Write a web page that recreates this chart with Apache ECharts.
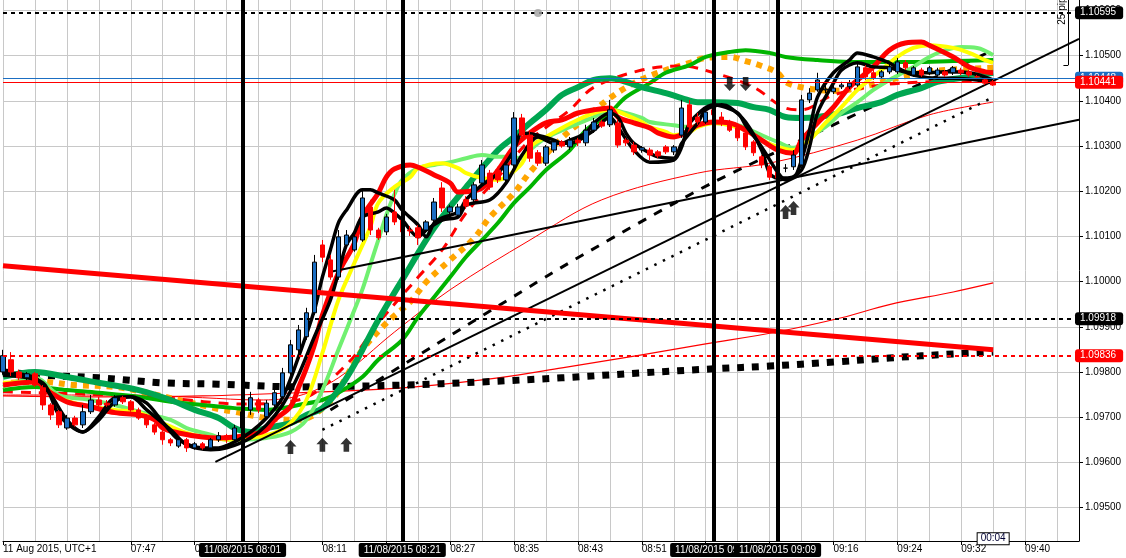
<!DOCTYPE html>
<html><head><meta charset="utf-8">
<script src="https://cdn.jsdelivr.net/npm/echarts@6.0.0/dist/echarts.min.js"></script>
<style>html,body{margin:0;padding:0;background:#fff}#c{width:1126px;height:558px}</style>
</head><body><div id="c"></div>
<script>
// ---------- axis ticks ----------
const xTickValues = [0,16,24,32,40,48,56,64,72,80,88,96,104,112,120,128];
const xTickLabels = ['11 Aug 2015, UTC+1','07:47','07:55','08:03','08:11','08:19','08:27','08:35','08:43','08:51','08:59','09:08','09:16','09:24','09:32','09:40'];
const yTickValues = [1.095,1.096,1.097,1.098,1.099,1.100,1.101,1.102,1.103,1.104,1.105,1.106];

// ---------- candles: [bar, open, close, low, high] ----------
const candles = [
[0,1.09800,1.09836,1.09794,1.09849],[1,1.09827,1.09800,1.09791,1.09844],[2,1.09800,1.09787,1.09782,1.09805],
[3,1.09787,1.09796,1.09782,1.09800],[4,1.09796,1.09771,1.09767,1.09800],[5,1.09765,1.09727,1.09716,1.09771],
[6,1.09727,1.09705,1.09694,1.09731],[7,1.09712,1.09683,1.09676,1.09716],[8,1.09676,1.09698,1.09672,1.09705],
[9,1.09698,1.09683,1.09679,1.09703],[10,1.09683,1.09712,1.09676,1.09727],[11,1.09712,1.09738,1.09707,1.09749],
[12,1.09738,1.09727,1.09721,1.09745],[13,1.09731,1.09727,1.09723,1.09738],[14,1.09727,1.09743,1.09723,1.09749],
[15,1.09743,1.09734,1.09729,1.09747],[16,1.09734,1.09716,1.09712,1.09738],[17,1.09716,1.09698,1.09694,1.09721],
[18,1.09703,1.09683,1.09676,1.09707],[19,1.09683,1.09667,1.09661,1.09687],[20,1.09667,1.09650,1.09639,1.09672],
[21,1.09650,1.09643,1.09636,1.09654],[22,1.09636,1.09650,1.09632,1.09656],[23,1.09650,1.09632,1.09623,1.09654],
[24,1.09632,1.09641,1.09628,1.09645],[25,1.09641,1.09632,1.09628,1.09645],[26,1.09632,1.09650,1.09628,1.09654],
[27,1.09650,1.09659,1.09645,1.09667],[28,1.09659,1.09650,1.09643,1.09663],[29,1.09650,1.09676,1.09645,1.09683],
[30,1.09676,1.09712,1.09672,1.09721],[31,1.09716,1.09743,1.09705,1.09756],[32,1.09738,1.09716,1.09709,1.09743],
[33,1.09701,1.09731,1.09694,1.09738],[34,1.09727,1.09754,1.09720,1.09765],[35,1.09745,1.09798,1.09738,1.09809],
[36,1.09798,1.09860,1.09791,1.09871],[37,1.09849,1.09893,1.09842,1.09904],[38,1.09878,1.09931,1.09871,1.09942],
[39,1.09931,1.10043,1.09926,1.10059],[40,1.10081,1.10054,1.10043,1.10092],[41,1.10048,1.10010,1.10004,1.10059],
[42,1.10010,1.10099,1.10004,1.10114],[43,1.10081,1.10103,1.10074,1.10114],[44,1.10070,1.10099,1.10066,1.10110],
[45,1.10092,1.10185,1.10088,1.10203],[46,1.10165,1.10114,1.10103,1.10181],[47,1.10114,1.10097,1.10092,1.10119],
[48,1.10110,1.10143,1.10103,1.10150],[49,1.10154,1.10132,1.10125,1.10203],[50,1.10136,1.10110,1.10101,1.10147],
[51,1.10114,1.10112,1.10101,1.10123],[52,1.10119,1.10097,1.10081,1.10125],[53,1.10114,1.10132,1.10108,1.10136],
[54,1.10136,1.10176,1.10132,1.10185],[55,1.10207,1.10163,1.10154,1.10220],[56,1.10154,1.10165,1.10147,1.10170],
[57,1.10147,1.10165,1.10141,1.10172],[58,1.10181,1.10167,1.10161,1.10189],[59,1.10181,1.10214,1.10174,1.10220],
[60,1.10218,1.10258,1.10212,1.10269],[61,1.10240,1.10209,1.10203,1.10247],[62,1.10247,1.10225,1.10218,1.10254],
[63,1.10225,1.10258,1.10220,1.10265],[64,1.10258,1.10362,1.10251,1.10375],[65,1.10362,1.10324,1.10313,1.10371],
[66,1.10324,1.10273,1.10265,1.10331],[67,1.10285,1.10262,1.10256,1.10291],[68,1.10262,1.10298,1.10256,1.10302],
[69,1.10291,1.10309,1.10285,1.10313],[70,1.10309,1.10300,1.10296,1.10313],[71,1.10298,1.10313,1.10291,1.10320],
[72,1.10313,1.10307,1.10300,1.10318],[73,1.10307,1.10335,1.10300,1.10347],[74,1.10335,1.10353,1.10329,1.10362],
[75,1.10353,1.10344,1.10340,1.10358],[76,1.10347,1.10380,1.10342,1.10402],[77,1.10351,1.10302,1.10296,1.10358],
[78,1.10313,1.10307,1.10300,1.10318],[79,1.10302,1.10287,1.10280,1.10309],[80,1.10291,1.10296,1.10285,1.10300],
[81,1.10291,1.10280,1.10269,1.10296],[82,1.10287,1.10278,1.10273,1.10291],[83,1.10298,1.10287,1.10282,1.10302],
[84,1.10287,1.10298,1.10280,1.10302],[85,1.10324,1.10384,1.10318,1.10402],[86,1.10391,1.10342,1.10335,1.10402],
[87,1.10364,1.10353,1.10347,1.10373],[88,1.10353,1.10375,1.10349,1.10384],[89,1.10380,1.10369,1.10362,1.10391],
[90,1.10364,1.10351,1.10344,1.10375],[91,1.10351,1.10335,1.10331,1.10358],[92,1.10340,1.10318,1.10311,1.10344],
[93,1.10329,1.10298,1.10291,1.10335],[94,1.10309,1.10285,1.10278,1.10313],[95,1.10276,1.10258,1.10251,1.10280],
[96,1.10254,1.10231,1.10225,1.10258],[97,1.10242,1.10229,1.10220,1.10247],[98,1.10251,1.10251,1.10242,1.10260],
[99,1.10254,1.10280,1.10247,1.10291],[100,1.10258,1.10402,1.10254,1.10413],[101,1.10402,1.10417,1.10395,1.10428],
[102,1.10424,1.10446,1.10420,1.10462],[103,1.10424,1.10426,1.10417,1.10435],[104,1.10420,1.10428,1.10415,1.10435],
[105,1.10431,1.10435,1.10426,1.10442],[106,1.10431,1.10439,1.10426,1.10446],[107,1.10435,1.10475,1.10431,1.10486],
[108,1.10473,1.10453,1.10446,1.10479],[109,1.10462,1.10450,1.10446,1.10468],[110,1.10453,1.10464,1.10448,1.10468],
[111,1.10464,1.10475,1.10459,1.10481],[112,1.10464,1.10486,1.10459,1.10495],[113,1.10484,1.10473,1.10468,1.10490],
[114,1.10457,1.10473,1.10453,1.10477],[115,1.10468,1.10457,1.10453,1.10473],[116,1.10462,1.10473,1.10457,1.10477],
[117,1.10457,1.10468,1.10453,1.10473],[118,1.10464,1.10457,1.10453,1.10468],[119,1.10462,1.10473,1.10457,1.10477],
[120,1.10468,1.10462,1.10457,1.10473],[121,1.10464,1.10457,1.10453,1.10468],[122,1.10453,1.10453,1.10448,1.10457],
[123,1.10446,1.10439,1.10435,1.10450],[124,1.10442,1.10435,1.10433,1.10446]
];

// ---------- moving averages: [bar, price] ----------
const maBlack1 = [[0,1.09798],[4,1.09787],[6,1.09749],[8,1.09694],[10,1.09667],[12,1.09694],[14,1.09734],[16,1.09745],[18,1.09731],[20,1.09689],[22,1.09650],[25,1.09632],[27,1.09632],[29,1.09645],[31,1.09667],[33,1.09698],[35,1.09743],[37,1.09833],[39,1.09937],[40,1.10010],[41,1.10070],[42,1.10130],[43,1.10158],[45,1.10203],[46,1.10203],[47,1.10196],[49,1.10181],[50,1.10158],[52,1.10125],[53,1.10099],[54,1.10130],[55,1.10141],[57,1.10154],[58,1.10181],[60,1.10214],[62,1.10240],[64,1.10291],[65,1.10329],[67,1.10324],[69,1.10313],[70,1.10306],[71,1.10313],[73,1.10329],[74,1.10351],[76,1.10373],[77,1.10364],[78,1.10329],[79,1.10306],[81,1.10284],[82,1.10276],[84,1.10273],[85,1.10306],[87,1.10351],[88,1.10380],[90,1.10391],[91,1.10386],[93,1.10353],[95,1.10291],[96,1.10240],[97,1.10229],[99,1.10231],[100,1.10269],[101,1.10335],[102,1.10408],[104,1.10462],[106,1.10490],[107,1.10506],[109,1.10497],[111,1.10484],[112,1.10473],[114,1.10457],[117,1.10450],[119,1.10450],[122,1.10446],[124,1.10439]];
const maBlack2 = [[0,1.09793],[5,1.09776],[7,1.09705],[10,1.09667],[12,1.09701],[14,1.09743],[16,1.09745],[18,1.09716],[21,1.09672],[23,1.09639],[26,1.09628],[28,1.09632],[31,1.09654],[33,1.09683],[35,1.09727],[37,1.09793],[39,1.09878],[41,1.09959],[42,1.10019],[43,1.10081],[44,1.10108],[45,1.10143],[47,1.10154],[48,1.10163],[49,1.10152],[50,1.10136],[52,1.10099],[53,1.10114],[55,1.10136],[57,1.10143],[58,1.10169],[61,1.10181],[63,1.10218],[65,1.10280],[67,1.10320],[69,1.10306],[71,1.10306],[74,1.10335],[76,1.10364],[77,1.10342],[79,1.10291],[81,1.10264],[84,1.10269],[85,1.10298],[86,1.10351],[89,1.10391],[92,1.10373],[93,1.10346],[95,1.10298],[97,1.10242],[98,1.10225],[100,1.10247],[101,1.10298],[102,1.10373],[104,1.10439],[105,1.10468],[107,1.10484],[109,1.10475],[111,1.10473],[113,1.10464],[116,1.10462],[118,1.10464],[121,1.10462],[124,1.10446]];
const maRed = [[0,1.09771],[4,1.09778],[6,1.09754],[8,1.09734],[11,1.09723],[14,1.09710],[17,1.09705],[19,1.09694],[20,1.09676],[22,1.09665],[25,1.09656],[27,1.09654],[29,1.09656],[31,1.09661],[33,1.09672],[34,1.09694],[36,1.09723],[37,1.09765],[38,1.09809],[39,1.09860],[40,1.09926],[42,1.10019],[44,1.10085],[45,1.10143],[47,1.10196],[48,1.10231],[49,1.10249],[51,1.10258],[52,1.10253],[54,1.10236],[56,1.10218],[57,1.10198],[60,1.10207],[62,1.10247],[64,1.10298],[66,1.10329],[68,1.10351],[70,1.10358],[72,1.10373],[74,1.10380],[76,1.10384],[77,1.10364],[79,1.10351],[81,1.10340],[82,1.10329],[84,1.10320],[86,1.10335],[87,1.10346],[89,1.10353],[91,1.10351],[93,1.10335],[95,1.10313],[97,1.10291],[99,1.10284],[100,1.10313],[102,1.10351],[104,1.10386],[106,1.10430],[109,1.10475],[111,1.10512],[113,1.10528],[115,1.10530],[116,1.10523],[119,1.10497],[121,1.10475],[123,1.10464],[124,1.10462]];
const maYellow = [[0,1.09776],[4,1.09778],[7,1.09743],[10,1.09727],[14,1.09716],[17,1.09710],[20,1.09687],[23,1.09665],[26,1.09654],[29,1.09650],[31,1.09654],[34,1.09665],[36,1.09687],[38,1.09738],[40,1.09842],[42,1.09959],[44,1.10041],[46,1.10121],[47,1.10174],[49,1.10209],[51,1.10231],[52,1.10251],[55,1.10262],[57,1.10251],[58,1.10240],[60,1.10229],[62,1.10225],[63,1.10231],[65,1.10262],[66,1.10298],[68,1.10320],[70,1.10340],[72,1.10358],[74,1.10373],[76,1.10380],[78,1.10369],[80,1.10353],[81,1.10342],[83,1.10331],[84,1.10324],[86,1.10331],[87,1.10342],[89,1.10351],[91,1.10346],[93,1.10335],[95,1.10313],[97,1.10298],[99,1.10291],[101,1.10313],[103,1.10351],[105,1.10386],[107,1.10424],[110,1.10468],[112,1.10497],[114,1.10517],[116,1.10523],[119,1.10517],[121,1.10506],[123,1.10490],[124,1.10484]];
const maLightGreen = [[0,1.09767],[4,1.09787],[7,1.09749],[11,1.09738],[14,1.09727],[17,1.09712],[21,1.09694],[23,1.09676],[26,1.09661],[28,1.09650],[30,1.09650],[33,1.09654],[36,1.09667],[38,1.09694],[40,1.09760],[42,1.09849],[44,1.09937],[45,1.09982],[46,1.10037],[47,1.10092],[48,1.10147],[49,1.10192],[50,1.10225],[52,1.10251],[54,1.10258],[56,1.10264],[58,1.10273],[60,1.10280],[62,1.10276],[63,1.10276],[65,1.10273],[66,1.10291],[68,1.10318],[71,1.10342],[74,1.10364],[76,1.10380],[78,1.10373],[80,1.10362],[81,1.10353],[84,1.10346],[86,1.10342],[87,1.10346],[89,1.10351],[92,1.10346],[93,1.10340],[95,1.10324],[97,1.10309],[99,1.10296],[101,1.10320],[103,1.10342],[105,1.10373],[107,1.10397],[109,1.10424],[111,1.10446],[114,1.10475],[116,1.10497],[118,1.10512],[120,1.10519],[122,1.10517],[124,1.10501]];
const maDarkGreen = [[0,1.09789],[4,1.09800],[8,1.09789],[12,1.09776],[17,1.09760],[21,1.09738],[24,1.09716],[27,1.09698],[29,1.09676],[31,1.09667],[33,1.09676],[36,1.09687],[38,1.09705],[40,1.09720],[42,1.09760],[44,1.09816],[47,1.09915],[50,1.10004],[54,1.10119],[58,1.10209],[62,1.10291],[64,1.10320],[66,1.10351],[68,1.10380],[70,1.10413],[72,1.10430],[74,1.10446],[76,1.10450],[78,1.10442],[80,1.10430],[83,1.10417],[85,1.10406],[87,1.10397],[89,1.10397],[92,1.10395],[94,1.10386],[96,1.10380],[98,1.10364],[100,1.10362],[102,1.10364],[105,1.10373],[107,1.10384],[110,1.10397],[112,1.10413],[115,1.10428],[117,1.10442],[121,1.10453],[124,1.10462]];
const maGreen = [[0,1.09760],[4,1.09767],[8,1.09760],[12,1.09754],[17,1.09745],[21,1.09734],[25,1.09727],[29,1.09720],[33,1.09716],[35,1.09720],[37,1.09727],[40,1.09738],[42,1.09754],[45,1.09789],[47,1.09827],[50,1.09871],[52,1.09922],[54,1.09966],[56,1.10010],[58,1.10055],[60,1.10092],[62,1.10130],[64,1.10174],[66,1.10209],[68,1.10247],[71,1.10291],[73,1.10335],[76,1.10373],[78,1.10408],[81,1.10439],[83,1.10462],[86,1.10479],[88,1.10497],[91,1.10508],[93,1.10512],[96,1.10506],[98,1.10497],[102,1.10490],[106,1.10486],[110,1.10486],[114,1.10486],[119,1.10488],[124,1.10490]];
const maOrange = [[1,1.09776],[5,1.09778],[9,1.09771],[14,1.09767],[18,1.09754],[22,1.09738],[27,1.09718],[29,1.09712],[33,1.09698],[37,1.09694],[41,1.09735],[43,1.09790],[45,1.09849],[48,1.09908],[51,1.09955],[53,1.09999],[56,1.10048],[59,1.10096],[61,1.10143],[64,1.10196],[66,1.10242],[70,1.10318],[73,1.10362],[76,1.10406],[79,1.10439],[82,1.10462],[86,1.10484],[88,1.10495],[91,1.10497],[93,1.10488],[95,1.10477],[97,1.10462],[98,1.10442],[100,1.10430],[104,1.10422],[107,1.10428],[111,1.10446],[115,1.10462],[118,1.10468],[124,1.10473]];
const maRedDashed = [[0,1.09756],[10,1.09751],[20,1.09743],[30,1.09729],[37,1.09738],[43,1.09816],[47,1.09908],[52,1.10010],[55,1.10070],[58,1.10152],[62,1.10231],[66,1.10313],[71,1.10380],[74,1.10430],[80,1.10468],[85,1.10477],[89,1.10462],[94,1.10430],[98,1.10384],[100,1.10380],[104,1.10413],[110,1.10435],[116,1.10442],[124,1.10446]];
const maRedThin = [[0,1.09749],[15,1.09749],[25,1.09743],[32,1.09738],[37,1.09747],[42,1.09787],[49,1.09888],[56,1.09982],[66,1.10092],[75,1.10181],[87,1.10240],[96,1.10262],[107,1.10313],[116,1.10369],[124,1.10397]];
const maRedSlow = [[0,1.09747],[12,1.09745],[25,1.09747],[37,1.09754],[50,1.09765],[62,1.09787],[70,1.09809],[80,1.09838],[88,1.09862],[97,1.09889],[105,1.09920],[111,1.09949],[119,1.09977],[124,1.09997]];
const maBlackSquares = [[0,1.09800],[5,1.09793],[12,1.09787],[20,1.09776],[27,1.09773],[37,1.09767],[50,1.09771],[60,1.09778],[70,1.09787],[80,1.09798],[89,1.09807],[96,1.09813],[104,1.09822],[111,1.09831],[119,1.09840],[124,1.09844]];

// ---------- trend lines ----------
const trendRed = [[0,1.10035],[124,1.09849]];
const trendThin1 = [[26.6,1.09601],[134.75,1.10537]];
const trendThin2 = [[40.9,1.10021],[134.75,1.10358]];
const trendDotted = [[40,1.09672],[124,1.10408]];
const trendDashed = [[41,1.09716],[70,1.10032],[89,1.10220],[124,1.10512]];

// ---------- levels, vertical markers, signals ----------
const levelValues = [1.10595,1.10450,1.10441,1.09918,1.09836];
const levelTexts  = ['1.10595','1.10448','1.10441','1.09918','1.09836'];
const vlineBars = [30,50,89,97];
const vlineTexts = ['11/08/2015 08:01','11/08/2015 08:21','11/08/2015 09:00','11/08/2015 09:09'];
const upArrows = [[36,1.09634],[40,1.09639],[43,1.09639],[98,1.10154],[99,1.10163]];
const downArrows = [[91,1.10437],[93,1.10437]];
const greyDot = [[67,1.10594]];
const rulerBar = 133.4, rulerTop = 1.10623, rulerBottom = 1.10479;
const countdown = {bar:124, price:1.09431, text:'00:04'};

const FONT = 'Liberation Sans';
const COL = {red:'#ff0000', yellow:'#ffff00', lgreen:'#70f070', dgreen:'#00a651', green:'#00b400', orange:'#ffa500', blue:'#1b6ec2', grid:'#c8c8c8'};

function line(name, data, color, width, type, smooth){
  return {type:'line', name:name, data:data, symbol:'none', showSymbol:false,
    smooth: smooth==null?0.35:smooth, silent:true, animation:false, z:2,
    lineStyle:{color:color, width:width, type:type||'solid', cap:'butt', join:'round'}};
}

const levelStyles = [
  {line:{color:'#000',width:2,type:[4,4]}, bg:'#000'},
  {line:{color:COL.blue,width:1.2,type:'solid'}, bg:COL.blue},
  {line:{color:COL.red,width:1.2,type:'solid'}, bg:COL.red},
  {line:{color:'#000',width:2,type:[4,4]}, bg:'#000'},
  {line:{color:COL.red,width:2,type:[4,4]}, bg:COL.red}
];

const markLineData = [];
levelValues.forEach((v,i)=>{
  markLineData.push({yAxis:v, lineStyle:levelStyles[i].line,
    label:{show:true, position:'end', formatter:levelTexts[i], color:'#fff', backgroundColor:levelStyles[i].bg,
      padding:[2,7,1,5], borderRadius:3, fontSize:10, fontFamily:FONT, distance:-4}});
});
vlineBars.forEach((b,i)=>{
  markLineData.push({xAxis:b, lineStyle:{color:'#000',width:4,type:'solid'},
    label:{show:true, position:'start', formatter:vlineTexts[i], color:'#fff', backgroundColor:'#000',
      padding:[2,5,2,5], borderRadius:2, fontSize:10, fontFamily:FONT, distance:2}});
});
markLineData.push([{coord:[rulerBar,rulerTop], lineStyle:{color:'#000',width:1,type:'solid'}, label:{show:false}},{coord:[rulerBar,rulerBottom]}]);
markLineData.push([{coord:[rulerBar-0.6,rulerBottom], lineStyle:{color:'#000',width:1,type:'solid'}, label:{show:false}},{coord:[rulerBar,rulerBottom]}]);

const arrowPath = 'path://M6,0 L12,6.5 L8.8,6.5 L8.8,14 L3.2,14 L3.2,6.5 L0,6.5 Z';

const option = {
  animation:false,
  backgroundColor:'#fff',
  grid:{left:1, right:47, top:0, bottom:17, containLabel:false},
  xAxis:[
    {type:'value', min:0, max:134.75, position:'bottom',
     axisLine:{show:true, onZero:false, lineStyle:{color:'#000',width:1}},
     axisTick:{show:true, customValues:xTickValues, length:4, lineStyle:{color:'#000'}},
     axisLabel:{show:true, customValues:xTickValues, align:'left', margin:3, fontSize:10, fontFamily:FONT, color:'#000',
       formatter:function(v){const i=xTickValues.indexOf(Math.round(v)); return i>=0?xTickLabels[i]:'';}},
     splitLine:{show:false}},
    {type:'value', min:0, max:134.75, interval:4, position:'bottom',
     axisLine:{show:false}, axisTick:{show:false}, axisLabel:{show:false},
     splitLine:{show:true, lineStyle:{color:COL.grid, width:1}}}
  ],
  yAxis:[
    {type:'value', min:1.09426, max:1.10623, position:'right', scale:true,
     axisLine:{show:true, onZero:false, lineStyle:{color:'#000',width:1}},
     axisTick:{show:true, customValues:yTickValues, length:4, lineStyle:{color:'#000'}},
     axisLabel:{show:true, customValues:yTickValues, margin:6, fontSize:10, fontFamily:FONT, color:'#000',
       formatter:function(v){return v.toFixed(5);}},
     splitLine:{show:true, lineStyle:{color:COL.grid, width:1}}}
  ],
  series:[
    {type:'candlestick', name:'price', data:candles, barWidth:5, silent:true, animation:false, z:2,
     itemStyle:{color:COL.blue, color0:COL.red, borderColor:'#000', borderColor0:COL.red, borderWidth:1}},
    line('slowRed', maRedSlow, COL.red, 1.2),
    line('midRed', maRedThin, COL.red, 1),
    line('blackSquares', maBlackSquares, '#000', 7, [7,8]),
    line('trendDotted', trendDotted, '#000', 2.5, [2.5,7], 0),
    line('trendDashed', trendDashed, '#000', 3, [9,9], 0.2),
    line('orange', maOrange, COL.orange, 6, [6,6]),
    line('redDashed', maRedDashed, COL.red, 3, [10,8]),
    line('green', maGreen, COL.green, 4),
    line('darkGreen', maDarkGreen, COL.dgreen, 6),
    line('lightGreen', maLightGreen, COL.lgreen, 4),
    line('yellow', maYellow, COL.yellow, 4),
    line('red', maRed, COL.red, 5),
    line('black2', maBlack2, '#000', 3.5, 'solid', 0.3),
    line('black1', maBlack1, '#000', 3.5, 'solid', 0.3),
    line('trendThin1', trendThin1, '#000', 2, 'solid', 0),
    line('trendThin2', trendThin2, '#000', 2, 'solid', 0),
    line('trendRed', trendRed, COL.red, 5, 'solid', 0),
    {type:'scatter', name:'up', data:upArrows, symbol:arrowPath, symbolSize:[12,14], silent:true, z:4,
     itemStyle:{color:'#000'}},
    {type:'scatter', name:'down', data:downArrows, symbol:arrowPath, symbolRotate:180, symbolSize:[12,14], silent:true, z:5,
     itemStyle:{color:'#000'},
     markLine:{silent:true, symbol:['none','none'], precision:5, animation:false, data:markLineData},
     markPoint:{silent:true, animation:false, data:[
       {coord:[132.7,1.10604], symbol:'circle', symbolSize:1, itemStyle:{color:'rgba(0,0,0,0)'},
        label:{show:true, position:'inside', formatter:'25 pips', rotate:90, color:'#000', fontSize:10, fontFamily:FONT}},
       {coord:[countdown.bar,countdown.price], symbol:'circle', symbolSize:1, itemStyle:{color:'rgba(0,0,0,0)'},
        label:{show:true, position:'inside', formatter:countdown.text, color:'#000033', fontSize:10, fontFamily:FONT,
          backgroundColor:'#fff', borderColor:'#000', borderWidth:1, padding:[1,3,0,3]}}
     ]}},
    {type:'scatter', name:'dot', data:greyDot, symbol:'circle', symbolSize:8, silent:true, z:7,
     itemStyle:{color:'#a0a0a0'}}
  ]
};
const chart = echarts.init(document.getElementById('c'), null, {renderer:'canvas'});
chart.setOption(option);
</script></body></html>
